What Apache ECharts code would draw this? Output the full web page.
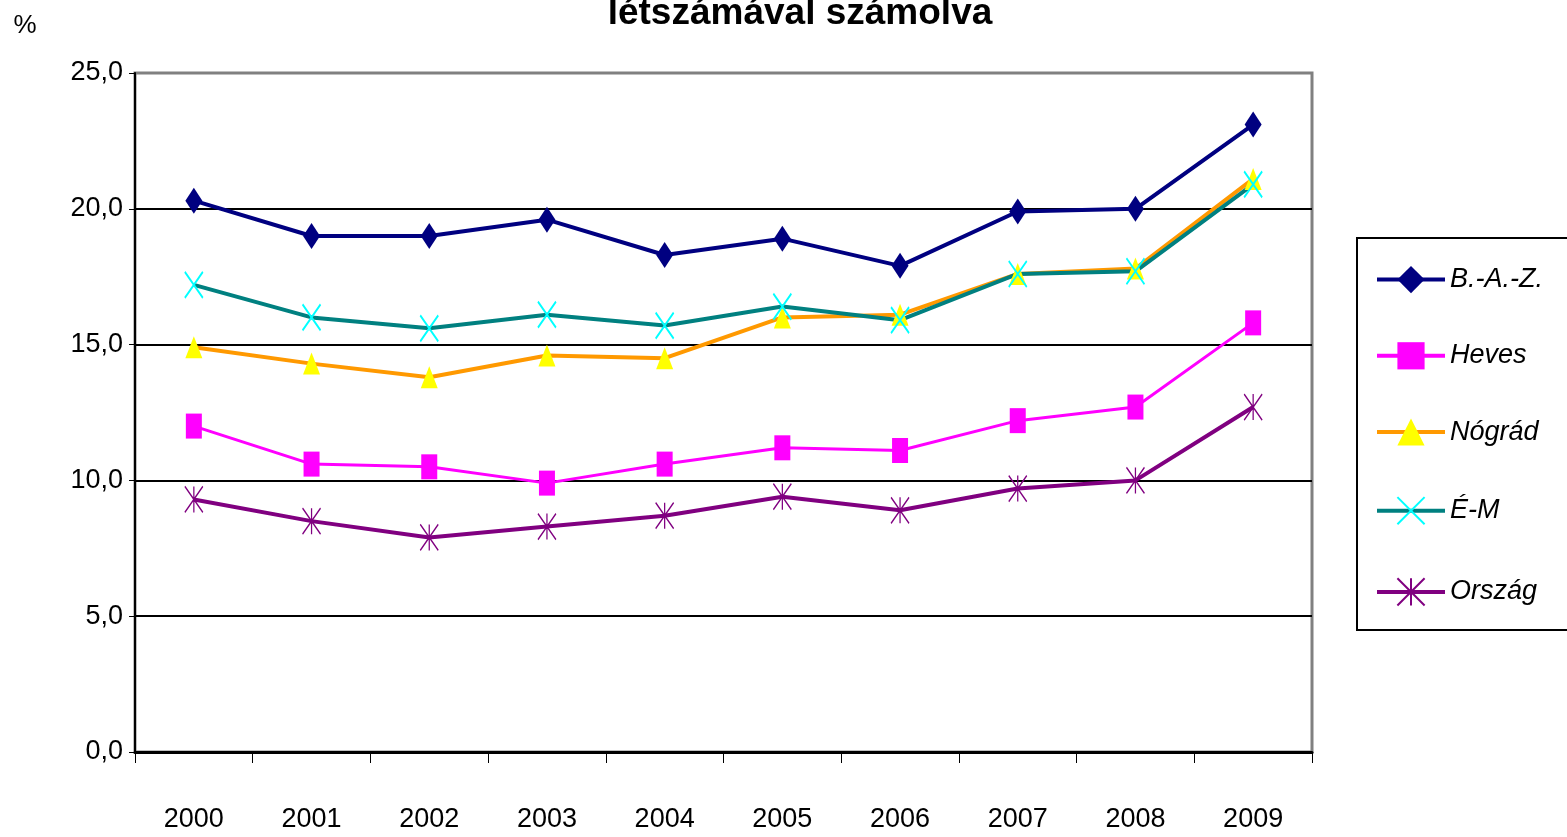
<!DOCTYPE html>
<html>
<head>
<meta charset="utf-8">
<script src="https://cdn.jsdelivr.net/npm/echarts@6/dist/echarts.min.js"></script>
<style>
  html, body { margin: 0; padding: 0; background: #fff; }
  #chart { width: 1567px; height: 837px; }
</style>
</head>
<body>
<div id="chart"></div>
<script>
// adatok
var years = ['2000', '2001', '2002', '2003', '2004', '2005', '2006', '2007', '2008', '2009'];
var baz = [20.3, 19.0, 19.0, 19.6, 18.3, 18.9, 17.9, 19.9, 20.0, 23.1];
var heves = [12.0, 10.6, 10.5, 9.9, 10.6, 11.2, 11.1, 12.2, 12.7, 15.8];
var nograd = [14.9, 14.3, 13.8, 14.6, 14.5, 16.0, 16.1, 17.6, 17.8, 21.1];
var em = [17.2, 16.0, 15.6, 16.1, 15.7, 16.4, 15.9, 17.6, 17.7, 20.9];
var orszag = [9.3, 8.5, 7.9, 8.3, 8.7, 9.4, 8.9, 9.7, 10.0, 12.7];

var font = '"Liberation Sans Narrow", "Liberation Sans", Arial, sans-serif';

var chart = echarts.init(document.getElementById('chart'));
var option = {
    animation: false,
    backgroundColor: '#fff',
    title: {
        text: 'létszámával számolva',
        left: 795,
        top: -10,
        textAlign: 'center',
        textStyle: {
            fontFamily: font,
            fontSize: 37,
            fontWeight: 'bold',
            color: '#000'
        }
    },
    grid: {
        left: 135,
        right: 255,
        top: 73,
        bottom: 85,
        show: true,
        borderColor: '#808080',
        borderWidth: 3
    },
    legend: {
        orient: 'vertical',
        left: 1357,
        top: 238,
        padding: [28, 40, 22, 18],
        itemGap: 49,
        itemWidth: 68,
        itemHeight: 34,
        borderColor: '#000',
        borderWidth: 2,
        lineStyle: { width: 4 },
        textStyle: {
            fontFamily: font,
            fontSize: 27,
            fontStyle: 'italic',
            color: '#000'
        },
        data: ['B.-A.-Z.', 'Heves', 'Nógrád', 'É-M', 'Ország']
    },
    xAxis: {
        type: 'category',
        data: years,
        boundaryGap: true,
        axisLine: { lineStyle: { color: '#000', width: 3 } },
        axisTick: { show: true, length: 11, lineStyle: { color: '#000', width: 1 } },
        axisLabel: {
            margin: 54,
            fontFamily: font,
            fontSize: 27,
            color: '#000'
        }
    },
    yAxis: {
        type: 'value',
        min: 0,
        max: 25,
        interval: 5,
        name: '%',
        nameLocation: 'end',
        nameGap: 34,
        nameTextStyle: {
            fontFamily: font,
            fontSize: 26,
            color: '#000',
            padding: [0, 220, 0, 0]
        },
        axisLine: { show: true, lineStyle: { color: '#000', width: 2 } },
        axisTick: { show: true, length: 6, lineStyle: { color: '#000' } },
        axisLabel: {
            margin: 12,
            fontFamily: font,
            fontSize: 27,
            color: '#000',
            formatter: function (v) { return v.toFixed(1).replace('.', ','); }
        },
        splitLine: {
            show: true,
            lineStyle: { color: ['#000', '#000', '#000', '#000', '#000', '#808080'], width: 2 }
        }
    },
    series: [{
        name: 'B.-A.-Z.',
        type: 'line',
        data: baz,
        symbol: 'diamond',
        symbolSize: [17, 26],
        lineStyle: { color: '#000080', width: 4 },
        itemStyle: { color: '#000080' }
    }, {
        name: 'Heves',
        type: 'line',
        data: heves,
        symbol: 'rect',
        symbolSize: [16, 25],
        lineStyle: { color: '#ff00ff', width: 3 },
        itemStyle: { color: '#ff00ff' }
    }, {
        name: 'Nógrád',
        type: 'line',
        data: nograd,
        symbol: 'triangle',
        symbolSize: [17, 22],
        lineStyle: { color: '#ff9900', width: 4 },
        itemStyle: { color: '#ffff00' }
    }, {
        name: 'É-M',
        type: 'line',
        data: em,
        symbol: 'path://M0,0L10,10M10,0L0,10',
        symbolSize: [18, 26],
        lineStyle: { color: '#008080', width: 4 },
        itemStyle: { color: 'none', borderColor: '#00ffff', borderWidth: 2 }
    }, {
        name: 'Ország',
        type: 'line',
        data: orszag,
        symbol: 'path://M0,0L10,10M10,0L0,10M5,0L5,10',
        symbolSize: [18, 26],
        lineStyle: { color: '#800080', width: 4 },
        itemStyle: { color: 'none', borderColor: '#800080', borderWidth: 1.5 }
    }]
};
chart.setOption(option);
</script>
</body>
</html>
